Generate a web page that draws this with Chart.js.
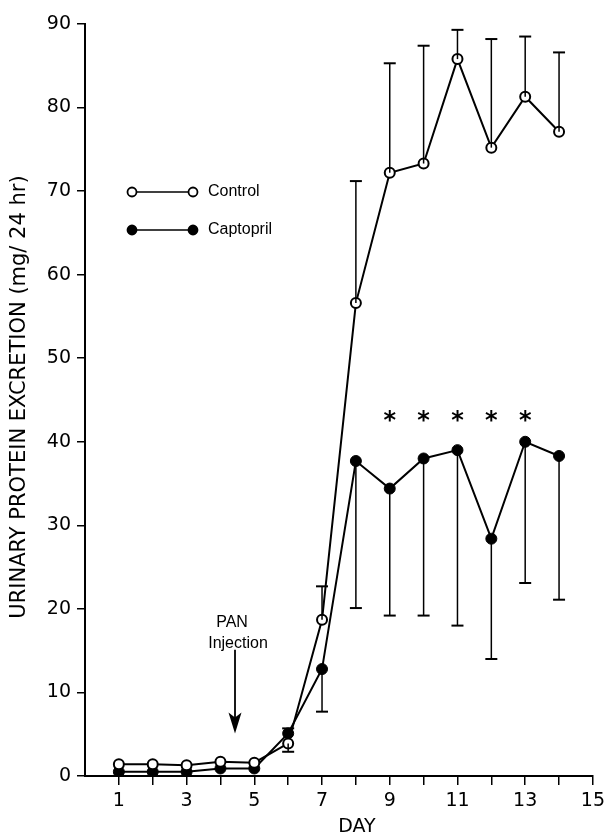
<!DOCTYPE html>
<html>
<head>
<meta charset="utf-8">
<script src="https://cdn.jsdelivr.net/npm/chart.js@4.4.1/dist/chart.umd.min.js"></script>
<style>
  html, body { margin: 0; padding: 0; background: #fff; }
  #wrap { width: 610px; height: 836px; position: relative; }
</style>
</head>
<body>
<div id="wrap"><canvas id="c" width="610" height="836"></canvas></div>
<script>
// ---- data ----
const days = [1, 2, 3, 4, 5, 6, 7, 8, 9, 10, 11, 12, 13, 14];
const controlMean   = [1.4, 1.4, 1.3, 1.7, 1.6, 3.9, 18.7, 56.6, 72.2, 73.3, 85.8, 75.2, 81.3, 77.1];
const controlUpper  = [null, null, null, null, null, null, 22.7, 71.2, 85.3, 87.4, 89.3, 88.2, 88.5, 86.6];
const controlLower  = [null, null, null, null, null, 2.9, null, null, null, null, null, null, null, null];
const captoprilMean  = [0.5, 0.5, 0.5, 0.9, 0.9, 5.1, 12.8, 37.7, 34.4, 38.0, 39.0, 28.4, 40.0, 38.3];
const captoprilUpper = [null, null, null, null, null, 5.7, null, null, null, null, null, null, null, null];
const captoprilLower = [null, null, null, null, null, null, 7.7, 20.1, 19.2, 19.2, 18.0, 14.0, 23.1, 21.1];
const starDays = [9, 10, 11, 12, 13];
const starLevel = 43;
const xTicks = [1, 2, 3, 4, 5, 6, 7, 8, 9, 10, 11, 12, 13, 14, 15];
const xLabelTicks = [1, 3, 5, 7, 9, 11, 13, 15];
const yTicks = [0, 10, 20, 30, 40, 50, 60, 70, 80, 90];
const panDay = 4.43;
const panTipValue = 5.1, panTailValue = 15.1;
const panTextValues = [18.3, 15.9];
const labels = { series: ['Control', 'Captopril'], x: 'DAY', y: 'URINARY PROTEIN EXCRETION (mg/ 24 hr)', pan: ['PAN', 'Injection'] };

const FONT = '"DejaVu Sans", "Liberation Sans", sans-serif';
const FONT2 = '"Liberation Sans", Arial, sans-serif';

const pts = (arr) => days.map((d, i) => ({ x: d, y: arr[i] }));

const overlay = {
  id: 'overlay',
  afterDatasetsDraw(chart) {
    const { ctx, scales: { x, y } } = chart;
    ctx.save();
    ctx.strokeStyle = '#000';
    ctx.fillStyle = '#000';
    // error bars
    const drawBar = (mean, ext) => {
      days.forEach((d, i) => {
        if (ext[i] == null) return;
        const px = x.getPixelForValue(d);
        const y0 = y.getPixelForValue(mean[i]);
        const y1 = y.getPixelForValue(ext[i]);
        ctx.lineWidth = 1.5;
        ctx.beginPath(); ctx.moveTo(px, y0); ctx.lineTo(px, y1); ctx.stroke();
        ctx.lineWidth = 2;
        ctx.beginPath(); ctx.moveTo(px - 6, y1); ctx.lineTo(px + 6, y1); ctx.stroke();
      });
    };
    drawBar(controlMean, controlUpper);
    drawBar(controlMean, controlLower);
    drawBar(captoprilMean, captoprilUpper);
    drawBar(captoprilMean, captoprilLower);

    // asterisks
    ctx.font = 'bold 24px ' + FONT;
    ctx.textAlign = 'center';
    ctx.textBaseline = 'middle';
    starDays.forEach(d => ctx.fillText('*', x.getPixelForValue(d), y.getPixelForValue(starLevel) + 5));

    // PAN injection annotation
    const ax = x.getPixelForValue(panDay);
    ctx.font = '16px ' + FONT2;
    ctx.textBaseline = 'middle';
    ctx.fillText(labels.pan[0], ax - 3, y.getPixelForValue(panTextValues[0]));
    ctx.fillText(labels.pan[1], ax + 3, y.getPixelForValue(panTextValues[1]));
    const tip = y.getPixelForValue(panTipValue);
    const tail = y.getPixelForValue(panTailValue);
    ctx.lineWidth = 1.8;
    ctx.beginPath(); ctx.moveTo(ax, tail); ctx.lineTo(ax, tip - 12); ctx.stroke();
    ctx.beginPath(); ctx.moveTo(ax, tip); ctx.lineTo(ax - 6.5, tip - 21); ctx.lineTo(ax, tip - 16); ctx.lineTo(ax + 6.5, tip - 21); ctx.closePath(); ctx.fill();

    // legend
    const lx0 = 132, lx1 = 193, ltx = 208;
    const rows = [{ y: 192, filled: false, t: labels.series[0] }, { y: 230, filled: true, t: labels.series[1] }];
    rows.forEach(r => {
      ctx.lineWidth = 1.5;
      ctx.beginPath(); ctx.moveTo(lx0, r.y); ctx.lineTo(lx1, r.y); ctx.stroke();
      [lx0, lx1].forEach(cx => {
        ctx.beginPath(); ctx.arc(cx, r.y, 4.5, 0, Math.PI * 2);
        ctx.fillStyle = r.filled ? '#000' : '#fff';
        ctx.fill();
        ctx.lineWidth = 1.8; ctx.stroke();
      });
      ctx.fillStyle = '#000';
      ctx.font = '16px ' + FONT2;
      ctx.textAlign = 'left';
      ctx.fillText(r.t, ltx, r.y);
    });

    // axis titles
    ctx.textAlign = 'center';
    ctx.textBaseline = 'middle';
    ctx.font = '19px ' + FONT;
    ctx.fillText(labels.x, 357, 827);
    ctx.font = '21px ' + FONT;
    ctx.translate(20, 397);
    ctx.rotate(-Math.PI / 2);
    ctx.fillText(labels.y, 0, 0);
    ctx.restore();
  }
};

new Chart(document.getElementById('c'), {
  type: 'line',
  data: {
    datasets: [
      {
        label: labels.series[0],
        data: pts(controlMean),
        borderColor: '#000', borderWidth: 2,
        pointRadius: 5, pointBorderWidth: 2,
        pointBackgroundColor: '#fff', pointBorderColor: '#000',
        tension: 0, order: 0
      },
      {
        label: labels.series[1],
        data: pts(captoprilMean),
        borderColor: '#000', borderWidth: 2,
        pointRadius: 5.5, pointBorderWidth: 1,
        pointBackgroundColor: '#000', pointBorderColor: '#000',
        tension: 0, order: 1
      }
    ]
  },
  options: {
    responsive: false,
    animation: false,
    devicePixelRatio: 1,
    layout: { padding: { top: 24, right: 14, left: 0, bottom: 0 } },
    plugins: { legend: { display: false }, tooltip: { enabled: false } },
    scales: {
      x: {
        type: 'linear', min: 0, max: 15,
        afterFit(s) { s.height = 60; },
        afterBuildTicks(s) { s.ticks = xTicks.map(v => ({ value: v })); },
        grid: { display: true, drawOnChartArea: false, drawTicks: true, tickLength: 9, color: '#000', lineWidth: 1.5 },
        border: { display: true, color: '#000', width: 2 },
        ticks: {
          color: '#000', font: { family: FONT, size: 19 }, padding: 5, maxRotation: 0, autoSkip: false,
          callback: (v) => xLabelTicks.includes(v) ? String(v) : ''
        }
      },
      y: {
        type: 'linear', min: 0, max: 90,
        afterFit(s) { s.width = 85; },
        afterBuildTicks(s) { s.ticks = yTicks.map(v => ({ value: v })); },
        grid: { display: true, drawOnChartArea: false, drawTicks: true, tickLength: 8, color: '#000', lineWidth: 1.5 },
        border: { display: true, color: '#000', width: 2 },
        ticks: { color: '#000', font: { family: FONT, size: 19 }, padding: 6 }
      }
    }
  },
  plugins: [overlay]
});
</script>
</body>
</html>
